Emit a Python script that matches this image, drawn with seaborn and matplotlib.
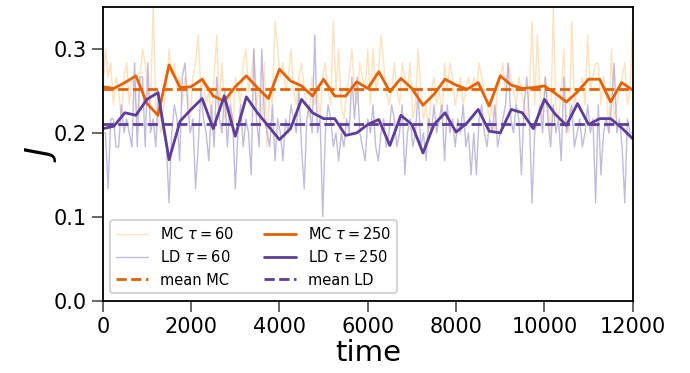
import numpy as np
import pandas as pd
import matplotlib
matplotlib.use("Agg")
import matplotlib.pyplot as plt
import seaborn as sns

# time grids of the two averaging windows
t60 = np.arange(0, 12001, 60)
t250 = np.arange(0, 12001, 250)

# short window (tau = 60): J in units of 1/60
mc60_hits = [15, 18, 16, 17, 14, 16, 15, 13, 16, 17,
             14, 16, 15, 13, 16, 18, 17, 15, 14, 21,
             14, 13, 12, 14, 15, 18, 16, 17, 15, 16,
             14, 16, 15, 13, 16, 17, 19, 15, 16, 14,
             15, 13, 16, 19, 14, 17, 13, 14, 15, 12,
             16, 15, 14, 17, 18, 15, 16, 18, 14, 15,
             13, 17, 11, 15, 14, 20, 18, 16, 17, 15,
             16, 18, 15, 14, 16, 17, 15, 14, 13, 16,
             14, 15, 13, 16, 17, 15, 14, 20, 15, 18,
             14, 13, 15, 16, 18, 15, 14, 17, 16, 15,
             18, 14, 18, 15, 16, 19, 17, 15, 14, 15,
             17, 15, 14, 17, 16, 15, 17, 13, 14, 18,
             15, 13, 14, 12, 15, 16, 14, 15, 13, 17,
             15, 17, 16, 14, 15, 16, 14, 15, 16, 15,
             16, 15, 17, 16, 15, 14, 13, 14, 12, 15,
             16, 17, 15, 17, 16, 15, 14, 16, 15, 14,
             13, 15, 20, 14, 19, 15, 13, 16, 14, 12,
             21, 14, 13, 15, 18, 13, 12, 20, 14, 15,
             15, 16, 14, 19, 15, 16, 17, 17, 14, 16,
             15, 12, 18, 13, 14, 15, 16, 17, 14, 15,
             20]
ld60_hits = [12, 12, 8, 13, 13, 11, 11, 14, 12, 13,
             12, 11, 17, 11, 16, 16, 11, 17, 12, 13,
             11, 15, 13, 12, 11, 7, 12, 14, 13, 10,
             16, 17, 14, 12, 13, 8, 11, 15, 13, 12,
             10, 14, 11, 16, 13, 12, 15, 11, 14, 13,
             8, 12, 14, 11, 13, 12, 9, 18, 13, 11,
             18, 13, 12, 11, 14, 10, 13, 12, 10, 13,
             12, 14, 13, 12, 15, 11, 8, 13, 14, 12,
             19, 12, 13, 6, 12, 14, 13, 11, 12, 10,
             12, 11, 13, 12, 16, 13, 16, 12, 11, 10,
             13, 12, 14, 11, 10, 12, 13, 11, 12, 14,
             13, 11, 12, 14, 9, 12, 13, 11, 12, 15,
             11, 12, 10, 13, 12, 14, 12, 13, 14, 10,
             14, 12, 13, 11, 13, 12, 14, 11, 12, 9,
             12, 9, 13, 14, 12, 11, 13, 12, 14, 11,
             12, 13, 14, 17, 13, 12, 14, 13, 9, 14,
             16, 13, 7, 12, 13, 14, 12, 16, 13, 11,
             14, 12, 13, 10, 16, 12, 13, 14, 11, 12,
             13, 11, 12, 14, 12, 13, 7, 14, 9, 12,
             13, 12, 14, 17, 12, 13, 11, 7, 13, 12,
             12]

# long window (tau = 250)
mc250 = [0.255, 0.253, 0.260, 0.268, 0.235, 0.221, 0.281, 0.254, 0.255, 0.264,
         0.244, 0.238, 0.255, 0.268, 0.254, 0.241, 0.276, 0.262, 0.256, 0.244,
         0.264, 0.244, 0.244, 0.261, 0.253, 0.273, 0.249, 0.265, 0.253, 0.233,
         0.246, 0.264, 0.257, 0.252, 0.260, 0.232, 0.268, 0.257, 0.253, 0.254,
         0.256, 0.247, 0.237, 0.249, 0.264, 0.264, 0.237, 0.260, 0.251]
ld250 = [0.205, 0.208, 0.224, 0.221, 0.240, 0.248, 0.168, 0.214, 0.228, 0.241,
         0.205, 0.244, 0.196, 0.243, 0.224, 0.208, 0.192, 0.205, 0.240, 0.224,
         0.217, 0.217, 0.197, 0.200, 0.210, 0.216, 0.185, 0.221, 0.210, 0.176,
         0.210, 0.224, 0.201, 0.212, 0.228, 0.202, 0.200, 0.228, 0.224, 0.205,
         0.240, 0.222, 0.209, 0.235, 0.210, 0.217, 0.217, 0.206, 0.193]

mean_mc = 0.252
mean_ld = 0.211

short = pd.DataFrame({"time": t60,
                      "MC": np.array(mc60_hits) / 60,
                      "LD": np.array(ld60_hits) / 60})
long = pd.DataFrame({"time": t250, "MC": mc250, "LD": ld250})

sns.set_theme(context="talk", style="ticks")
plt.rcParams["font.family"] = ["DejaVu Sans"]
plt.rcParams["mathtext.fontset"] = "dejavusans"
for key in ["text.color", "axes.labelcolor", "xtick.labelcolor", "ytick.labelcolor",
            "axes.edgecolor"]:
    plt.rcParams[key] = "black"
plt.rcParams["xtick.color"] = "0.35"
plt.rcParams["ytick.color"] = "0.35"

orange, light_orange, light_purple, purple = "#e66101", "#fdb863", "#b2abd2", "#5e3c99"

fig, ax = plt.subplots(figsize=(6.9, 3.73), dpi=100)
fig.subplots_adjust(left=0.149, right=0.917, top=0.981, bottom=0.194)

h1 = sns.lineplot(data=short, x="time", y="MC", ax=ax, color=light_orange,
                  lw=1, alpha=0.42, label=r"MC $\tau=60$").lines[-1]
h2 = sns.lineplot(data=short, x="time", y="LD", ax=ax, color=light_purple,
                  lw=1, alpha=0.8, label=r"LD $\tau=60$").lines[-1]
h3 = sns.lineplot(data=long, x="time", y="MC", ax=ax, color=orange,
                  lw=2, label=r"MC $\tau=250$").lines[-1]
h4 = sns.lineplot(data=long, x="time", y="LD", ax=ax, color=purple,
                  lw=2, label=r"LD $\tau=250$").lines[-1]
h5 = ax.axhline(mean_mc, color=orange, ls="--", lw=2, label="mean MC")
h6 = ax.axhline(mean_ld, color=purple, ls="--", lw=2, label="mean LD")

for side in ax.spines.values():
    side.set_linewidth(1.3)
    side.set_color("black")

ax.set_xlim(0, 12000)
ax.set_ylim(0, 0.35)
ax.set_xticks(range(0, 12001, 2000))
ax.set_yticks([0.0, 0.1, 0.2, 0.3])
ax.tick_params(labelsize=15, width=1.3, length=8)
ax.set_xlabel("time", fontsize=21, labelpad=2)
ax.set_ylabel(r"$J$", fontsize=24, labelpad=-4)

ax.legend(handles=[h1, h2, h5, h3, h4, h6], ncol=2, loc="lower left",
          fontsize=10.5, columnspacing=2.1, handlelength=2.2)

plt.savefig("out.png")
